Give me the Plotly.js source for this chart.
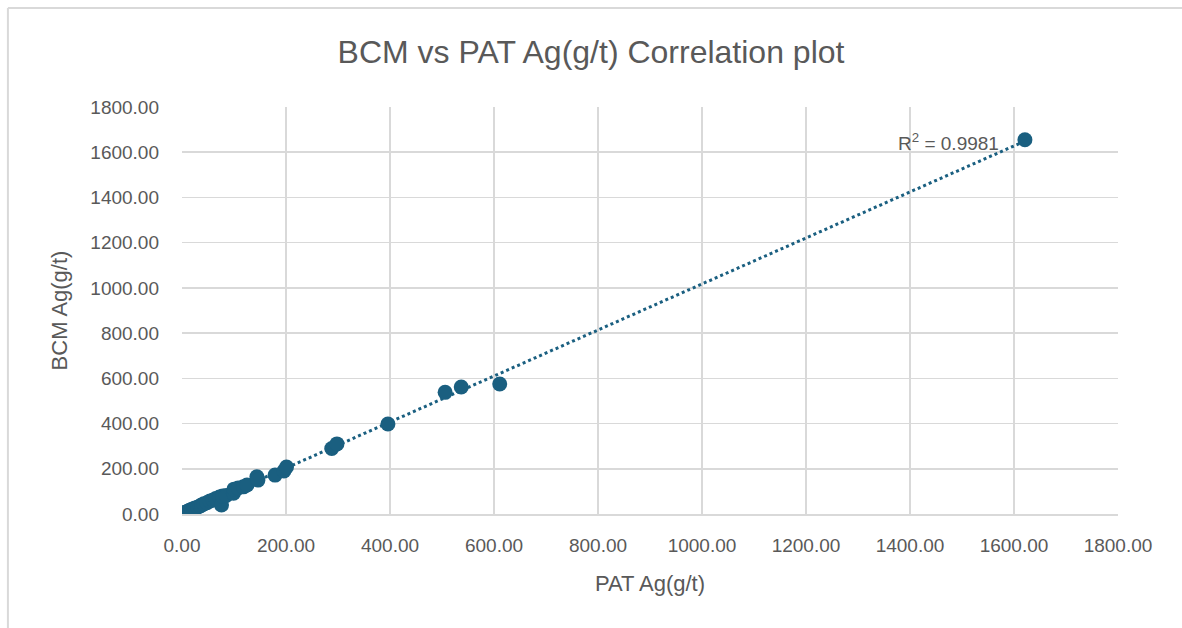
<!DOCTYPE html>
<html>
<head>
<meta charset="utf-8">
<script src="https://cdn.plot.ly/plotly-3.0.1.min.js"></script>
<style>html,body{margin:0;padding:0;background:#fff;}#chart{width:1182px;height:628px;}</style>
</head>
<body>
<div id="chart"></div>
<script>
const chartTitle = "BCM vs PAT Ag(g/t) Correlation plot";
const xTitle = "PAT Ag(g/t)";
const yTitle = "BCM Ag(g/t)";
const patAg = [1, 3, 6, 9, 12, 15, 18, 22, 25, 30, 35, 38, 42, 48, 54, 60, 65, 72, 76, 78, 85, 99, 100, 108, 118, 125, 144, 146, 179, 196, 201, 288, 298, 396, 506, 537, 611, 1621];
const bcmAg = [2, 4, 7, 10, 13, 17, 20, 23, 26, 30, 36, 40, 45, 50, 58, 62, 68, 75, 40, 80, 82, 92, 110, 115, 120, 128, 165, 150, 172, 190, 208, 290, 310, 398, 538, 562, 575, 1655];
const r2Label = "R<sup>2</sup> = 0.9981";
const tickVals = [0, 200, 400, 600, 800, 1000, 1200, 1400, 1600, 1800];
const tickText = tickVals.map(v => v.toFixed(2));

// linear least squares trendline
const n = patAg.length;
const mx = patAg.reduce((a, b) => a + b, 0) / n;
const my = bcmAg.reduce((a, b) => a + b, 0) / n;
let sxy = 0, sxx = 0;
for (let i = 0; i < n; i++) { sxy += (patAg[i] - mx) * (bcmAg[i] - my); sxx += (patAg[i] - mx) ** 2; }
const slope = sxy / sxx, icpt = my - slope * mx;
const xMin = Math.min(...patAg), xMax = Math.max(...patAg);
const trendX = [xMin, xMax];
const trendY = trendX.map(x => slope * x + icpt);

const col = "#1a5f80";
const font = "Liberation Sans, Arial, sans-serif";
const data = [
  {x: trendX, y: trendY, type: "scatter", mode: "lines", line: {color: col, width: 3, dash: "dot"}, hoverinfo: "skip", showlegend: false},
  {x: patAg, y: bcmAg, type: "scatter", mode: "markers", marker: {color: col, size: 15}, showlegend: false}
];
const axisCommon = {
  range: [0, 1800], tickvals: tickVals, ticktext: tickText,
  showgrid: true, gridcolor: "#d9d9d9", gridwidth: 1.5,
  zeroline: false, showline: false, ticks: "",
  tickfont: {family: font, size: 19, color: "#595959"}
};
const layout = {
  width: 1182, height: 628,
  paper_bgcolor: "#ffffff", plot_bgcolor: "#ffffff",
  margin: {l: 182, r: 64, t: 107, b: 114},
  title: {text: chartTitle, x: 0.5, xanchor: "center", y: 0.917, yanchor: "middle",
          font: {family: font, size: 32, color: "#595959"}},
  xaxis: Object.assign({}, axisCommon, {
    title: {text: xTitle, font: {family: font, size: 22, color: "#595959"}, standoff: 20},
    showline: true, linecolor: "#d9d9d9", linewidth: 1.5, mirror: false,
    ticklabelstandoff: 14
  }),
  yaxis: Object.assign({}, axisCommon, {
    title: {text: yTitle, font: {family: font, size: 22, color: "#595959"}, standoff: 16},
    ticklabelstandoff: 22
  }),
  annotations: [{
    x: 1575, y: 1645, xref: "x", yref: "y", text: r2Label, showarrow: false,
    xanchor: "right", yanchor: "middle",
    font: {family: font, size: 19, color: "#595959"}
  }],
  shapes: [
    {type: "line", xref: "paper", yref: "paper", x0: -0.186, x1: 1.07, y0: 1.243, y1: 1.243, line: {color: "#d9d9d9", width: 2}},
    {type: "line", xref: "paper", yref: "paper", x0: -0.186, x1: -0.186, y0: -0.29, y1: 1.243, line: {color: "#d9d9d9", width: 2}}
  ]
};
Plotly.newPlot("chart", data, layout, {displayModeBar: false, staticPlot: true});
</script>
</body>
</html>
